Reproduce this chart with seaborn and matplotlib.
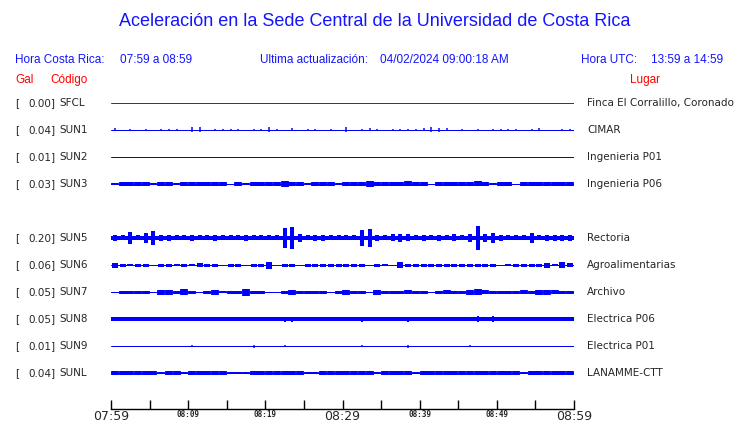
import seaborn as sns
import matplotlib
matplotlib.use('Agg')
import matplotlib.pyplot as plt
import matplotlib.transforms as mtransforms
import pandas as pd
import numpy as np

# station rows (slot 4 is empty, SUN4 is not reporting)
codes = ['SFCL', 'SUN1', 'SUN2', 'SUN3', 'SUN5', 'SUN6', 'SUN7', 'SUN8', 'SUN9', 'SUNL']
slots = [0, 1, 2, 3, 5, 6, 7, 8, 9, 10]
peak_gal = ['0.00', '0.04', '0.01', '0.03', '0.20', '0.06', '0.05', '0.05', '0.01', '0.04']
places = ['Finca El Corralillo, Coronado', 'CIMAR', 'Ingenieria P01', 'Ingenieria P06',
          'Rectoria', 'Agroalimentarias', 'Archivo', 'Electrica P06', 'Electrica P01',
          'LANAMME-CTT']

# time axis (minutes after 07:59)
tick_minutes = [0, 5, 10, 15, 20, 25, 30, 35, 40, 45, 50, 55, 60]
tick_labels = ['07:59', '', '08:09', '', '08:19', '', '08:29', '', '08:39', '', '08:49', '', '08:59']

# half-height of each trace, one value per minute, in screen pixels
amp_SFCL = [0, 0, 0, 0, 0, 0, 0, 0, 0, 0, 0, 0, 0, 0, 0, 0, 0, 0, 0, 0,
            0, 0, 0, 0, 0, 0, 0, 0, 0, 0, 0, 0, 0, 0, 0, 0, 0, 0, 0, 0,
            0, 0, 0, 0, 0, 0, 0, 0, 0, 0, 0, 0, 0, 0, 0, 0, 0, 0, 0, 0]
amp_SUN1 = [1.5, 0, 1, 0, 1, 0, 1, 1, 1, 0, 2.5, 2.5, 0, 1, 1, 1, 1, 0, 1, 1,
            2.5, 1, 0, 1.5, 0, 1, 1, 0, 1, 0, 2.5, 0, 1, 1.5, 1, 0, 1, 1, 1, 1,
            1.5, 2.5, 2, 1.5, 0, 1, 0, 1, 0, 1, 1, 1, 1, 0, 1, 1.5, 0, 0, 1, 1]
amp_SUN2 = [0, 0, 0, 0, 0, 0, 0, 0, 0, 0, 0, 0, 0, 0, 0, 0, 0, 0, 0, 0,
            0, 0, 0, 0, 0, 0, 0, 0, 0, 0, 0, 0, 0, 0, 0, 0, 0, 0, 0, 0,
            0, 0, 0, 0, 0, 0, 0, 0, 0, 0, 0, 0, 0, 0, 0, 0, 0, 0, 0, 0]
amp_SUN3 = [1, 1.7, 1.7, 1.7, 1.7, 1, 1.7, 1.7, 1, 1.7, 1.7, 1.7, 1.7, 1.7, 1.7, 0, 1.7, 1, 1.7, 1.7,
            1.7, 1.7, 3, 1.7, 1.7, 1, 1.7, 1.7, 1.7, 1, 1.7, 1.7, 1.7, 3, 1.7, 1.7, 1.7, 1.7, 2.5, 1.7,
            1.7, 0, 1.7, 1.7, 1.7, 1.7, 1.7, 2.5, 1.7, 1, 1.7, 1.7, 0, 1.7, 1.7, 1.7, 1.7, 1.7, 1.7, 1.7]
amp_SUN5 = [3, 2.5, 6, 2.5, 5, 7, 3, 3, 2.5, 2.5, 3, 2.5, 2.5, 3, 2.5, 2.5, 2.5, 3, 2.5, 2.5,
            2.5, 2.5, 10, 11, 4, 2.5, 3, 3, 2.5, 2.5, 2.5, 2.5, 8, 9, 3, 2.5, 3.5, 4, 3.5, 2.5,
            3, 2.5, 3, 2.5, 3.5, 2.5, 4, 12, 4, 5, 3, 2.5, 2.5, 2.5, 5, 2.5, 3, 3, 3, 3]
amp_SUN6 = [2.5, 1.5, 1, 1.5, 1.5, 0, 1.5, 1.5, 1, 1.5, 1, 2, 1.5, 1.5, 0, 1.5, 1.5, 0, 1.5, 1.5,
            3.5, 0, 1.5, 1.5, 0, 1.5, 1.5, 1.5, 1.5, 1.5, 1.5, 1.5, 1.5, 0, 1.5, 1, 0, 3, 1.5, 1.5,
            1.5, 1.5, 1.5, 1.5, 1.5, 1.5, 1.5, 1.5, 1.5, 1.5, 0, 1, 1.5, 1.5, 1.5, 1.5, 2.5, 1, 3, 2]
amp_SUN7 = [0.5, 1.5, 1.5, 1.5, 1.5, 0.5, 2.5, 2.5, 1.5, 3, 1.5, 0.5, 1.5, 2.5, 1, 1.5, 1.5, 3.5, 1.5, 1.5,
            0.5, 0.5, 1.5, 2.5, 1.5, 1.5, 1.5, 1.5, 0.5, 1.5, 2.5, 1.5, 1.5, 0.5, 2.5, 1.5, 1.5, 1.5, 2, 1.5,
            1.5, 0.5, 1.5, 2, 1.5, 1.5, 2.5, 3, 2, 1.5, 1.5, 1.5, 1.5, 2, 1.5, 2.5, 2.5, 2, 1.5, 1.5]
amp_SUN8 = [1.5, 1.5, 2.2, 1.5, 2.2, 1.5, 1.5, 1.5, 1.5, 1.5, 1.5, 1.5, 2.2, 1.5, 1.5, 1.5, 1.5, 1.5, 1.5, 1.5,
            1.5, 1.5, 2.5, 2.5, 1.5, 1.5, 1.5, 1.5, 1.5, 1.5, 1.5, 2.2, 2.5, 2.2, 1.5, 2.2, 1.5, 2.2, 2.5, 1.5,
            1.5, 1.5, 2.2, 1.5, 1.5, 2.2, 1.5, 2.8, 2.2, 2.8, 1.5, 1.5, 1.5, 1.5, 2.2, 1.5, 2.2, 2.2, 1.5, 2.2]
amp_SUN9 = [0, 0, 0, 0, 0, 0, 0, 0, 0, 0, 1.2, 0, 0, 0, 0, 0, 0, 0, 1.5, 0,
            0, 0, 1, 0, 0, 0, 0, 0, 0, 0, 0, 0, 1.2, 0, 0, 0, 0, 0, 1.5, 0,
            0, 0, 0, 0, 0, 0, 1.2, 0, 0, 0, 0, 0, 0, 0, 0, 0, 0, 0, 0, 0]
amp_SUNL = [1.7, 1.7, 1.7, 1.7, 1.7, 1.7, 1, 1.7, 1.7, 1, 1.7, 1.7, 1.7, 1.7, 2.3, 1, 1.2, 1.2, 1.7, 1.7,
            1.7, 1.7, 1.7, 1.7, 1.7, 1, 1.2, 2.3, 1.7, 1.7, 2.3, 1.7, 1.7, 1.7, 1, 1.7, 1.7, 1.7, 2.3, 1,
            1.7, 1.7, 1.7, 1.7, 1.7, 1.7, 1.7, 1.7, 1.7, 1.7, 1.7, 1.7, 1.7, 1, 1.7, 1.7, 2.3, 1.7, 1.7, 1.7]

amps = [amp_SFCL, amp_SUN1, amp_SUN2, amp_SUN3, amp_SUN5, amp_SUN6, amp_SUN7, amp_SUN8, amp_SUN9, amp_SUNL]

# drawing style per trace: colour, continuous band (px), burst bar width (px)
style = {
    'SFCL': ('#cc0000', 0, 1.5), 'SUN1': ('#0000ff', 0, 1.5), 'SUN2': ('#0000ff', 0, 1.5),
    'SUN3': ('#0000ff', 0, 7.8), 'SUN5': ('#0000ff', 2.2, 4), 'SUN6': ('#0000ff', 0, 6),
    'SUN7': ('#0000ff', 0, 7.8), 'SUN8': ('#0000ff', 2.0, 2), 'SUN9': ('#0000ff', 0, 1.5),
    'SUNL': ('#0000ff', 0, 7.8),
}

SLOT_PX = 27.0
PT = 0.72  # points per pixel at dpi 100
HDR_BLUE = '#1414ff'
HDR_RED = '#ff0000'

sns.set_style('white')
plt.rcParams['font.family'] = ['DejaVu Sans']

fig = plt.figure(figsize=(7.4, 4.23), dpi=100)
ax = fig.add_axes([111 / 740, 1 - 409 / 423, 463 / 740, (409 - 90) / 423])

# baselines through seaborn
base = pd.DataFrame({
    't': np.concatenate([[0, 60]] * len(codes)),
    'slot': np.repeat(slots, 2),
    'code': np.repeat(codes, 2),
})
sns.lineplot(data=base, x='t', y='slot', hue='code', units='code', estimator=None,
             palette={c: style[c][0] for c in codes}, linewidth=1.0 * PT, legend=False, ax=ax)

minutes = np.arange(60) + 0.5
for code, slot, amp in zip(codes, slots, amps):
    color, band, width = style[code]
    a = np.array(amp) / SLOT_PX
    if band > 0:
        ax.fill_between([0, 60], slot - band / SLOT_PX, slot + band / SLOT_PX,
                        color=color, linewidth=0)
    keep = a > 0
    ax.vlines(minutes[keep], slot - a[keep], slot + a[keep], color=color,
              linewidth=width * PT)

ax.set_xlim(0, 60)
ax.set_ylim((409 - 103) / SLOT_PX, (90 - 103) / SLOT_PX)
ax.set_xlabel('')
ax.set_ylabel('')
ax.set_yticks([])
for s in ['top', 'left', 'right']:
    ax.spines[s].set_visible(False)
ax.spines['bottom'].set_color('black')
ax.spines['bottom'].set_linewidth(1.0 * PT * 1.4)
ax.set_xticks(tick_minutes)
ax.set_xticklabels(tick_labels)
ax.tick_params(axis='x', bottom=True, direction='in', length=9 * PT, width=1.0 * PT * 1.4,
               color='black', pad=1.0)
for lab in ax.get_xticklabels():
    if lab.get_text() in ('07:59', '08:29', '08:59'):
        lab.set_fontfamily('DejaVu Sans')
        lab.set_fontsize(9)
    else:
        lab.set_fontfamily('DejaVu Sans Mono')
        lab.set_fontsize(5.5)
        lab.set_fontweight('bold')

# station labels, left and right of the traces
trans = mtransforms.blended_transform_factory(fig.transFigure, ax.transData)
for slot, code, g, place in zip(slots, codes, peak_gal, places):
    ax.text(15 / 740, slot, '[', transform=trans, ha='left', va='center', fontsize=7.5)
    ax.text(55.5 / 740, slot, g + ']', transform=trans, ha='right', va='center', fontsize=7.5)
    ax.text(59 / 740, slot, code, transform=trans, ha='left', va='center', fontsize=7.5)
    ax.text(587 / 740, slot, place, transform=trans, ha='left', va='center', fontsize=7.5)

# header
hdr = dict(family='Liberation Sans', va='center')
fig.text(375 / 740, 1 - 22 / 423, 'Aceleración en la Sede Central de la Universidad de Costa Rica',
         ha='center', fontsize=13, color=HDR_BLUE, **hdr)
row2 = 1 - 60 / 423
fig.text(15 / 740, row2, 'Hora Costa Rica:', fontsize=8.5, color=HDR_BLUE, **hdr)
fig.text(120 / 740, row2, '07:59 a 08:59', fontsize=8.5, color=HDR_BLUE, **hdr)
fig.text(260 / 740, row2, 'Ultima actualización:', fontsize=8.5, color=HDR_BLUE, **hdr)
fig.text(380 / 740, row2, '04/02/2024 09:00:18 AM', fontsize=8.5, color=HDR_BLUE, **hdr)
fig.text(581 / 740, row2, 'Hora UTC:', fontsize=8.5, color=HDR_BLUE, **hdr)
fig.text(651 / 740, row2, '13:59 a 14:59', fontsize=8.5, color=HDR_BLUE, **hdr)
row3 = 1 - 80 / 423
fig.text(15 / 740, row3, 'Gal', fontsize=8.5, color=HDR_RED, **hdr)
fig.text(50 / 740, row3, 'Código', fontsize=8.5, color=HDR_RED, **hdr)
fig.text(630 / 740, row3, 'Lugar', fontsize=8.5, color=HDR_RED, **hdr)

fig.savefig('out.png', dpi=100, facecolor='white')
